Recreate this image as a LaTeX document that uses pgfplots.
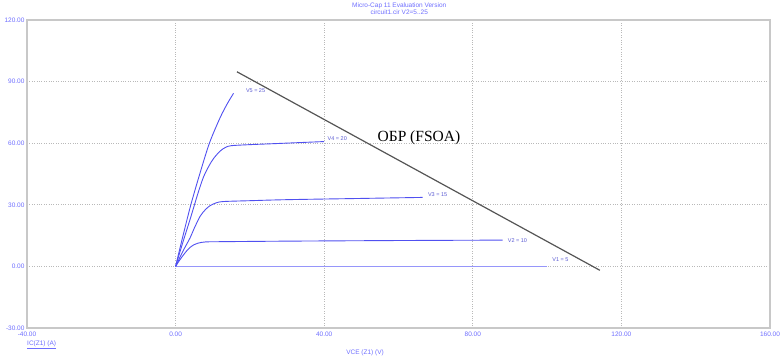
\documentclass[border=0pt]{standalone}
\usepackage{pgfplots}
\pgfplotsset{compat=1.18}
\usepackage{fontspec}
\setmainfont{Liberation Sans}
\newfontfamily\serifcyr{Liberation Serif}
\definecolor{curve}{RGB}{80,80,240}
\definecolor{curvelight}{RGB}{150,150,250}
\definecolor{ticklab}{RGB}{110,110,255}
\definecolor{labtxt}{RGB}{90,90,210}
\definecolor{framec}{RGB}{200,200,200}
\definecolor{gridc}{RGB}{185,185,185}
\definecolor{soa}{RGB}{85,85,85}
\begin{document}
\begin{tikzpicture}
\useasboundingbox (-27pt,-33pt) rectangle (755pt,328pt);
\begin{axis}[
  at={(0,0)}, anchor=south west,
  scale only axis, width=743pt, height=308pt,
  xmin=-40, xmax=160, ymin=-30, ymax=120,
  xtick={-40,0,40,80,120,160},
  ytick={-30,0,30,60,90,120},
  major tick length=0pt,
  grid=major,
  major grid style={gridc, dotted, line width=0.8pt},
  axis line style={framec, line width=2pt},
  clip=false,
  /pgf/number format/.cd, fixed, fixed zerofill, precision=2, assume math mode=true,
  /pgfplots/.cd,
  ticklabel style={font=\fontsize{6.5}{7}\selectfont, text=ticklab},
  xticklabel style={yshift=0pt},
  yticklabel style={xshift=1pt},
]
\addplot[curvelight, line width=1.1pt] coordinates {(0,0) (100,0)};
\addplot[curve, line width=0.9pt, smooth, tension=0.5] coordinates {
(0,0) (1,2.8) (2,5.3) (3,7.6) (4,9.4) (5,10.6) (6,11.3) (7,11.7) (8,11.9) (10,12.0) (30,12.3) (60,12.6) (88,12.8)};
\addplot[curve, line width=0.9pt, smooth, tension=0.5] coordinates {
(0,0) (2,7.5) (3.9,13.9) (5,18.5) (6.6,24.4) (8,27.6) (9.3,29.6) (11,31.0) (13,31.6) (20,32.0) (30,32.5) (50,33.1) (66.5,33.6)};
\addplot[curve, line width=0.9pt, smooth, tension=0.5] coordinates {
(0,0) (2,12) (4,23.5) (6,35.5) (7.5,43.5) (9,49) (10.2,52.5) (12,56.2) (13.5,58) (15,58.8) (20,59.3) (25.5,59.7) (40,60.8)};
\addplot[curve, line width=0.9pt, smooth, tension=0.5] coordinates {
(0,0) (2,15) (4.1,30) (6.5,45) (9.1,60) (12,72.5) (14,79.5) (15.6,84.3)};
\addplot[soa, line width=1.2pt] coordinates {(16.5,94.8) (114.2,-1.9)};
\node[anchor=west, text=labtxt, font=\fontsize{5.5}{6}\selectfont] at (axis cs:18.0,85.5) {V5 = 25};
\node[anchor=west, text=labtxt, font=\fontsize{5.5}{6}\selectfont] at (axis cs:40.0,62.0) {V4 = 20};
\node[anchor=west, text=labtxt, font=\fontsize{5.5}{6}\selectfont] at (axis cs:67.0,35.0) {V3 = 15};
\node[anchor=west, text=labtxt, font=\fontsize{5.5}{6}\selectfont] at (axis cs:88.5,12.5) {V2 = 10};
\node[anchor=west, text=labtxt, font=\fontsize{5.5}{6}\selectfont] at (axis cs:100.5,3.2) {V1 = 5};
\node[font=\serifcyr\fontsize{15.5}{17}\selectfont] at (axis cs:65.5,62.5) {ОБР (FSOA)};
\node[text=ticklab, font=\fontsize{6.5}{7}\selectfont] at (axis cs:51,-30) [yshift=-25pt] {VCE (Z1) (V)};
\node[anchor=west, text=ticklab, font=\fontsize{6.5}{7}\selectfont, inner sep=0pt] at (axis cs:-40,-30) [yshift=-17pt] {\underline{IC(Z1) (A)}};
\node[text=ticklab, font=\fontsize{6.5}{7}\selectfont, align=center, anchor=south] at (axis cs:60.2,120) [yshift=2pt] {Micro-Cap 11 Evaluation Version\\circuit1.cir V2=5..25};
\end{axis}
\end{tikzpicture}
\end{document}
